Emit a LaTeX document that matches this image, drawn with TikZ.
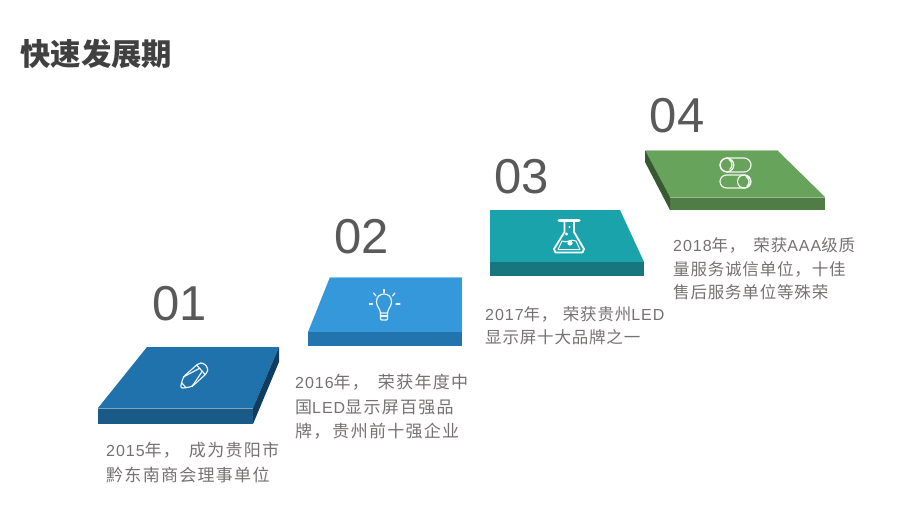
\documentclass[tikz,border=0pt]{standalone}
\usepackage{fontspec}
\usepackage{tkz-euclide}
\usepackage{tikz}
\newfontfamily\cjkfont[LetterSpace=7.6]{Noto Sans CJK SC}
\newfontfamily\cjksmall[LetterSpace=5]{Noto Sans CJK SC}
\newfontfamily\headfont{Noto Sans CJK SC}
\newfontfamily\latfont[LetterSpace=6]{Liberation Sans}
\newfontfamily\numfont{Liberation Sans}
\newcommand{\lat}[1]{{\latfont\fontsize{16}{24.4}\selectfont #1}}
\definecolor{topA}{HTML}{1F72AB}
\definecolor{frontA}{HTML}{1A5A86}
\definecolor{sideA}{HTML}{0F3D62}
\definecolor{topB}{HTML}{3498DB}
\definecolor{frontB}{HTML}{2274AE}
\definecolor{topC}{HTML}{1AA3AB}
\definecolor{frontC}{HTML}{16787E}
\definecolor{topD}{HTML}{67A35A}
\definecolor{frontD}{HTML}{4F7D45}
\definecolor{sideD}{HTML}{375A30}
\definecolor{numColor}{HTML}{595959}
\definecolor{descColor}{HTML}{767171}
\definecolor{headColor}{HTML}{404040}
\tikzset{
  num/.style={font=\numfont\fontsize{49}{49}\selectfont,text=numColor,inner sep=0pt},
  desc/.style={font=\cjkfont\fontsize{17}{24.4}\selectfont,text=descColor,align=left,anchor=west,inner sep=0pt},
  descsmall/.style={desc,font=\cjksmall\fontsize{16.5}{23.4}\selectfont},
  edge/.style={white,opacity=.45,line width=.7pt},
  icon/.style={white,opacity=.9,line width=1.2pt,line cap=round,line join=round}
}
\begin{document}
\begin{tikzpicture}[x=1pt,y=-1pt]
    \useasboundingbox (0,0) rectangle (918,525);

    \node[font=\headfont\bfseries\fontsize{30.4}{30.4}\selectfont,text=headColor,anchor=west,inner sep=0pt] (title) at (20,54) {快速发展期};

    \tkzDefPoint(147,347){A1}
    \tkzDefPoint(279,347){A2}
    \tkzDefPoint(253,408){A3}
    \tkzDefPoint(98,408){A4}
    \tkzDefPoint(98,424){A5}
    \tkzDefPoint(253,424){A6}
    \tkzDefPoint(279,362){A7}
    \fill[topA] (A1)--(A2)--(A3)--(A4)--cycle;
    \fill[frontA] (A4)--(A3)--(A6)--(A5)--cycle;
    \fill[sideA] (A3)--(A2)--(A7)--(A6)--cycle;
    \draw[edge] (A4)--(A3);

    \tkzDefPoint(330,277){B1}
    \tkzDefPoint(462,277){B2}
    \tkzDefPoint(462,332){B3}
    \tkzDefPoint(308,332){B4}
    \tkzDefPoint(308,346){B5}
    \tkzDefPoint(462,346){B6}
    \fill[topB] (B1)--(B2)--(B3)--(B4)--cycle;
    \fill[frontB] (B4)--(B3)--(B6)--(B5)--cycle;
    \draw[edge] (B1)--(B2)--(B3);

    \tkzDefPoint(490,210){C1}
    \tkzDefPoint(620,210){C2}
    \tkzDefPoint(644,262){C3}
    \tkzDefPoint(490,262){C4}
    \tkzDefPoint(490,276){C5}
    \tkzDefPoint(644,276){C6}
    \fill[topC] (C1)--(C2)--(C3)--(C4)--cycle;
    \fill[frontC] (C4)--(C3)--(C6)--(C5)--cycle;

    \tkzDefPoint(645,150){D1}
    \tkzDefPoint(777,150){D2}
    \tkzDefPoint(825,197){D3}
    \tkzDefPoint(670,197){D4}
    \tkzDefPoint(670,210){D5}
    \tkzDefPoint(825,210){D6}
    \tkzDefPoint(645,162){D7}
    \fill[topD] (D1)--(D2)--(D3)--(D4)--cycle;
    \fill[frontD] (D4)--(D3)--(D6)--(D5)--cycle;
    \fill[sideD] (D1)--(D4)--(D5)--(D7)--cycle;
    \draw[edge] (D1)--(D2);
    \draw[edge] (D4)--(D3);

    \begin{scope}[shift={(193.5,376.5)},rotate=42,icon]
      \draw[rounded corners=3pt] (-8,-6.5)--(12,-6.5)--(16.5,-4)--(16.5,4)--(12,6.5)--(-8,6.5)--(-18,0)--cycle;
      \draw (10,-6.5)--(10,6.5);
      \draw (-8,-6.5)--(10,-2);
      \draw (-8,6.5)--(10,2);
      \draw (-13,-3)--(-13,3);
    \end{scope}

    \begin{scope}[icon]
      \draw (380.5,313) .. controls (380,308) and (376.5,307) .. (376.5,301.5) .. controls (376.5,291.5) and (391.5,291.5) .. (391.5,301.5) .. controls (391.5,307) and (388,308) .. (387.5,313)--cycle;
      \draw (380.5,313)--(380.5,319)--(381.5,320)--(386.5,320)--(387.5,319)--(387.5,313);
      \draw (380.5,316)--(387.5,316);
      \draw (384,289.5)--(384,292.5);
      \draw (369.5,304)--(372.5,304);
      \draw (396,304)--(400,304);
      \draw (373.5,293)--(376,296);
      \draw (395,293)--(392.5,296);
    \end{scope}

    \begin{scope}[icon,opacity=1]
      \draw[line width=3pt] (559,220.5)--(579,220.5);
      \draw[line width=1.8pt] (564.5,221)--(564.5,232)--(554,249)--(555.5,252.5)--(582.5,252.5)--(584,249)--(574,232)--(574,221);
      \draw[line width=1pt] (558,249.5)--(580,249.5)--(576,241) .. controls (570,238) and (567,244) .. (562,241)--cycle;
      \fill[white] (570,243) circle (2.6);
      \fill[white] (569.5,227) circle (1.2);
      \fill[white] (566.5,234) circle (1.7);
    \end{scope}

    \begin{scope}[icon]
      \draw[rounded corners=7pt] (720,158) rectangle (751,172);
      \draw (727,165) circle (6.8);
      \draw (729,159.5) arc (-60:50:6);
      \draw[rounded corners=6.5pt] (720,175) rectangle (751,188);
      \draw (744,181.5) circle (6.5);
      \draw (746,176.5) arc (-60:50:6);
    \end{scope}

    \node[num] (numA) at (179.5,304) {01};
    \node[num] (numB) at (362,237) {02};
    \node[num] (numC) at (522,177) {03};
    \node[num] (numD) at (677,116) {04};

    \node[desc] (descA) at (106,462.5) {\lat{2015}年，\kern9pt成为贵阳市\\黔东南商会理事单位};
    \node[desc] (descB) at (295,407) {\lat{2016}年，\kern9pt荣获年度中\\国\lat{LED}显示屏百强品\\牌，\kern2pt贵州前十强企业};
    \node[descsmall] (descC) at (485,325.5) {\lat{2017}年，\kern5.4pt荣获贵州\lat{LED}\\显示屏十大品牌之一};
    \node[descsmall] (descD) at (673,269) {\lat{2018}年，\kern8pt荣获\lat{AAA}级质\\量服务诚信单位，十佳\\售后服务单位等殊荣};
\end{tikzpicture}
\end{document}
